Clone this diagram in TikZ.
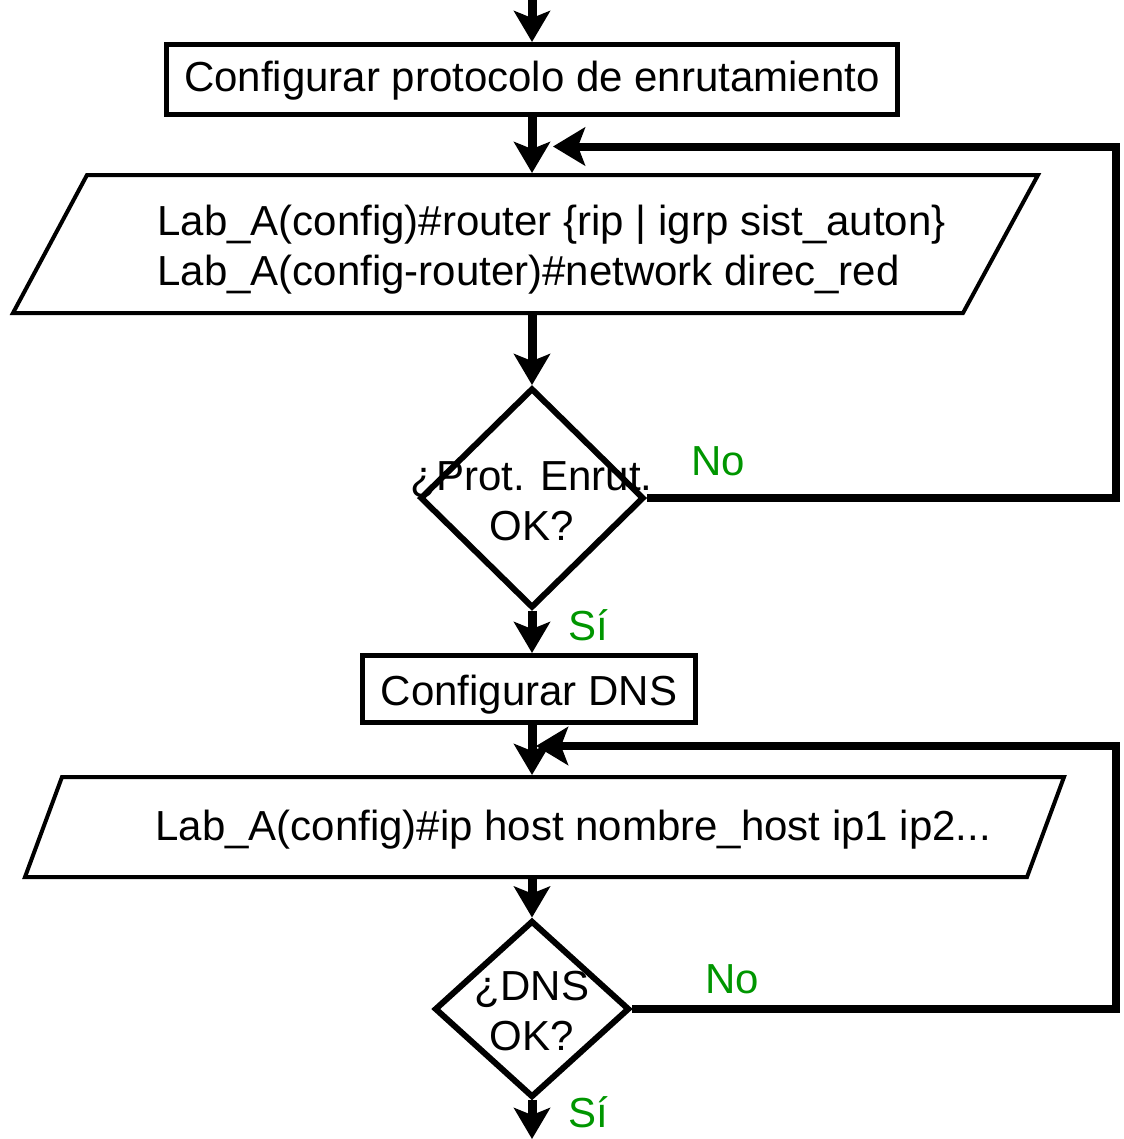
\documentclass[tikz,border=0pt]{standalone}
\usepackage{fontspec}
\setmainfont{Liberation Sans}
\usetikzlibrary{arrows.meta,shapes.geometric}
\definecolor{yesno}{RGB}{0,150,0}
\begin{document}
\begin{tikzpicture}[x=0.02cm,y=-0.02cm,
  every node/.style={font=\fontsize{23.9}{28.5}\selectfont},
  procbox/.style={draw, rectangle, line width=0.1cm, inner sep=0pt, text depth=0pt},
  decision/.style={draw, diamond, line width=0.12cm, inner sep=0pt},
  iobox/.style={line width=0.08cm, line join=miter},
  lbl/.style={inner sep=0pt, anchor=base},
  cmd/.style={inner sep=0pt, anchor=base west},
  answer/.style={inner sep=0pt, anchor=base west, text=yesno},
  flow/.style={line width=0.18cm, -{Stealth[length=0.62cm,width=0.72cm,inset=0.14cm]}},
  back/.style={line width=0.16cm, line join=miter, -{Stealth[length=0.64cm,width=0.76cm,inset=0.14cm]}},
]
\useasboundingbox (0,0) rectangle (1124,1139);

% routing protocol step
\coordinate (start) at (532,0);
\node[procbox, minimum width=14.64cm, minimum height=1.4cm, text height=0.5cm] (cfgrp) at (532,79.5)
  {Configurar protocolo de enrutamiento};

% router commands (input)
\draw[iobox] (87,175) -- (1038,175) -- (963,313) -- (13,313) -- cycle;
\coordinate (p1n) at (532,173);
\coordinate (p1s) at (532,315);
\coordinate (p1in) at (553,146.5);
\node[cmd] (cmdA) at (157,235) {Lab\_A(config)\#router \{rip | igrp sist\_auton\}};
\node[cmd] (cmdB) at (157,285) {Lab\_A(config-router)\#network direc\_red};

% routing check
\node[decision, minimum width=4.48cm, minimum height=4.4cm] (chk1) at (532,498) {};
\node[lbl] (q1a) at (531.5,490) {¿Prot. Enrut.};
\node[lbl] (q1b) at (531.5,540) {OK?};
\node[answer] (no1) at (691,475) {No};
\node[answer] (si1) at (568,640) {Sí};
\coordinate (r1) at (1116,146.5);

% DNS step
\node[procbox, minimum width=6.66cm, minimum height=1.34cm, text height=0.64cm] (cfgdns) at (529,689) {Configurar DNS};

% host command (input)
\draw[iobox] (62,777) -- (1064,777) -- (1027,877) -- (25,877) -- cycle;
\coordinate (p2n) at (532,775);
\coordinate (p2s) at (532,879);
\coordinate (p2in) at (536,746);
\node[cmd] (cmdC) at (155,840) {Lab\_A(config)\#ip host nombre\_host ip1 ip2...};

% DNS check
\node[decision, minimum width=3.9cm, minimum height=3.54cm] (chk2) at (532,1009) {};
\node[lbl] (q2a) at (532,1000) {¿DNS};
\node[lbl] (q2b) at (532,1050) {OK?};
\node[answer] (no2) at (705,993) {No};
\node[answer] (si2) at (568,1127) {Sí};
\coordinate (r2) at (1116,746);
\coordinate (end) at (532,1139);

% connectors
\draw[flow] (start) -- (cfgrp.north);
\draw[flow] (cfgrp.south) -- (p1n);
\draw[flow] (p1s) -- (chk1.north);
\draw[back] (chk1.east) -| (r1) -- (p1in);
\draw[flow] (chk1.south) -- (chk1.south |- cfgdns.north);
\draw[flow] (chk1.south |- cfgdns.south) -- (p2n);
\draw[flow] (p2s) -- (chk2.north);
\draw[back] (chk2.east) -| (r2) -- (p2in);
\draw[flow] (chk2.south) -- (end);
\end{tikzpicture}
\end{document}
